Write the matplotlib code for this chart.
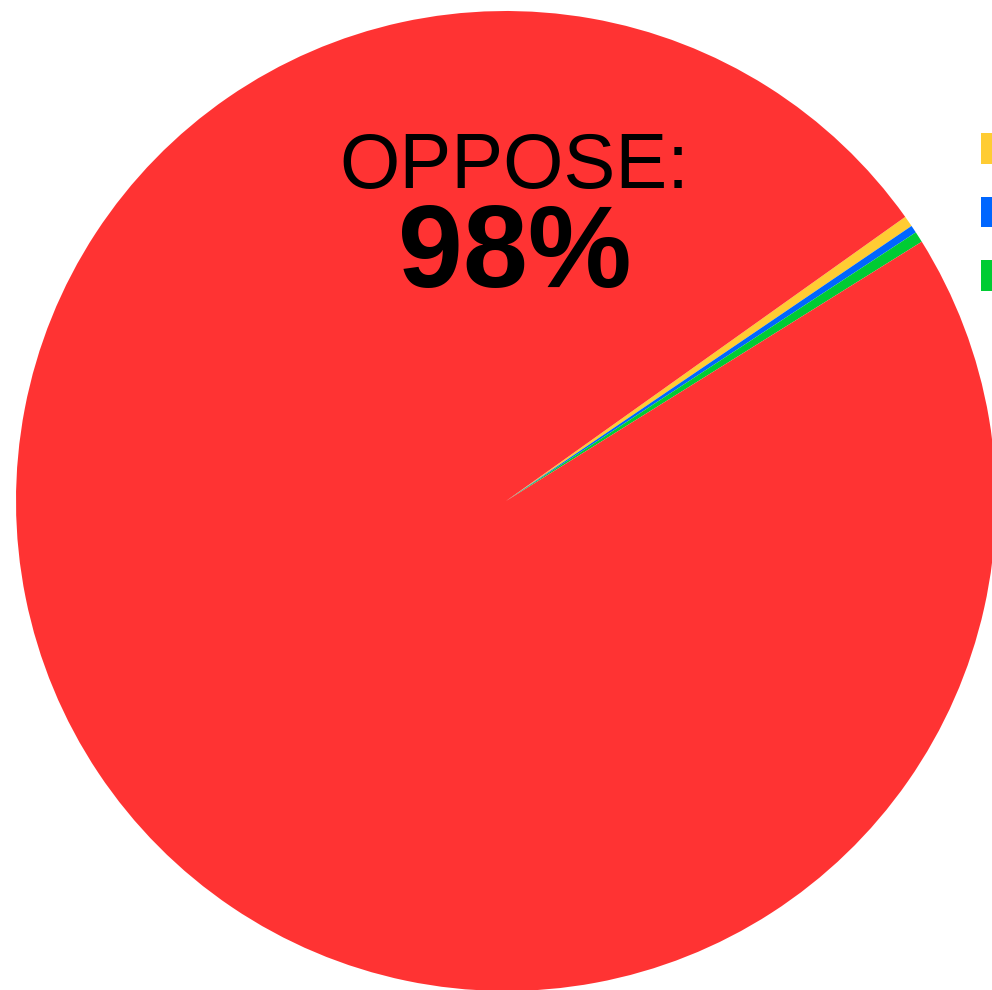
import matplotlib
matplotlib.use("Agg")
from matplotlib import pyplot as plt

# answers, as share of all responses
labels = ["SUPPORT", "UNSURE", "NO ANSWER", "OPPOSE"]
shares = [0.36, 0.25, 0.36, 99.03]
colors = ["#FFCC33", "#0066FF", "#00CC33", "#FF3333"]
headline = "OPPOSE:"
headline_value = "98%"

plt.rcParams["font.family"] = ["Liberation Sans", "DejaVu Sans"]

W, H = 992, 990
fig = plt.figure(figsize=(W / 100, H / 100), dpi=100)
ax = fig.add_axes([0, 0, 1, 1])

# pie centre and radius in pixels
cx, cy, r = 506, 501, 490

wedges, _ = ax.pie(shares, colors=colors, startangle=35.44, counterclock=False,
                   radius=1, wedgeprops=dict(linewidth=0))
ax.set_xlim(-cx / r, (W - cx) / r)
ax.set_ylim((cy - H) / r, cy / r)
ax.set_aspect("auto")
ax.axis("off")

ax.text((514 - cx) / r, (cy - 188) / r, headline, ha="center", va="baseline",
        fontsize=56)
ax.text((515 - cx) / r, (cy - 287) / r, headline_value, ha="center", va="baseline",
        fontsize=84, fontweight="bold")

# legend sits mostly past the right edge, only the swatches peek in
fig.legend(wedges[:3], labels[:3], loc="upper left",
           bbox_to_anchor=(981 / W, 1 - 133 / H), frameon=False,
           borderpad=0, borderaxespad=0, handlelength=1, handleheight=1.1,
           handletextpad=1.2, labelspacing=0.95, fontsize=23)

fig.savefig("out.png", dpi=100)
